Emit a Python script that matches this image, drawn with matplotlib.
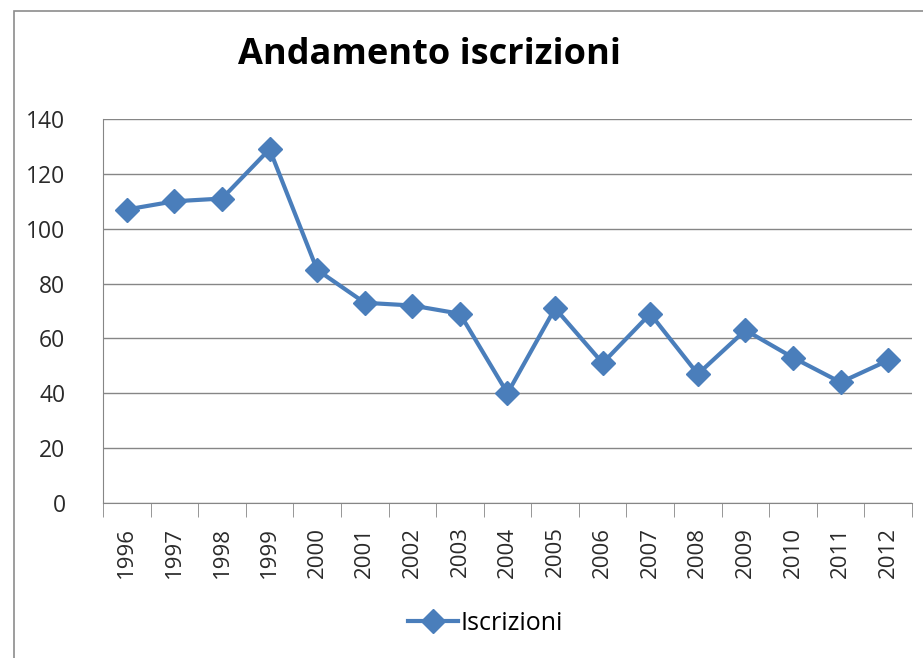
import matplotlib.pyplot as plt
from matplotlib.patches import Rectangle
import numpy as np

years = ['1996', '1997', '1998', '1999', '2000', '2001', '2002', '2003', '2004',
         '2005', '2006', '2007', '2008', '2009', '2010', '2011', '2012']
iscrizioni = [107, 110, 111, 129, 85, 73, 72, 69, 40, 71, 51, 69, 47, 63, 53, 44, 52]

plt.rcParams['font.family'] = ['Open Sans', 'DejaVu Sans']

fig = plt.figure(figsize=(9.23, 6.58), dpi=100)

# outer chart border (cropped at right/bottom)
fig.patches.append(Rectangle((14 / 923, -0.1), 1.2, 1 - 11 / 658 + 0.1,
                             transform=fig.transFigure, fill=False,
                             edgecolor='#8c8c8c', linewidth=1.2))

ax = fig.add_axes([103 / 923, 1 - 503 / 658, (912 - 103) / 923, (503 - 119) / 658])

x = np.arange(len(years))
ax.plot(x, iscrizioni, color='#4a7ebb', linewidth=3, marker='D', markersize=12,
        label='Iscrizioni')

ax.set_xlim(-0.5, len(years) - 0.5)
ax.set_ylim(0, 140)
ax.set_yticks(range(0, 141, 20))
ax.grid(axis='y', color='#868686', linewidth=1)
ax.set_axisbelow(True)

ax.set_xticks(x)
ax.set_xticklabels(years, rotation=90)
ax.set_xticks(np.arange(-0.5, len(years), 1), minor=True)
ax.tick_params(axis='x', which='major', length=0, pad=17, labelsize=16, colors='#2a2a2a')
ax.tick_params(axis='x', which='minor', length=10, color='#868686', direction='out')
ax.tick_params(axis='y', length=0, pad=27, labelsize=16.5, colors='#2a2a2a')

for side in ['top', 'right']:
    ax.spines[side].set_visible(False)
ax.spines['left'].set_color('#868686')
ax.spines['bottom'].set_color('#868686')

fig.text(430 / 923, 1 - 55 / 658, 'Andamento iscrizioni', ha='center', va='center',
         fontsize=26, fontweight='bold')

ax.legend(loc='center', bbox_to_anchor=(485 / 923, 1 - 623 / 658),
          bbox_transform=fig.transFigure, frameon=False, fontsize=18,
          handlelength=2.0, handletextpad=0.1)

plt.savefig('out.png', dpi=100)
